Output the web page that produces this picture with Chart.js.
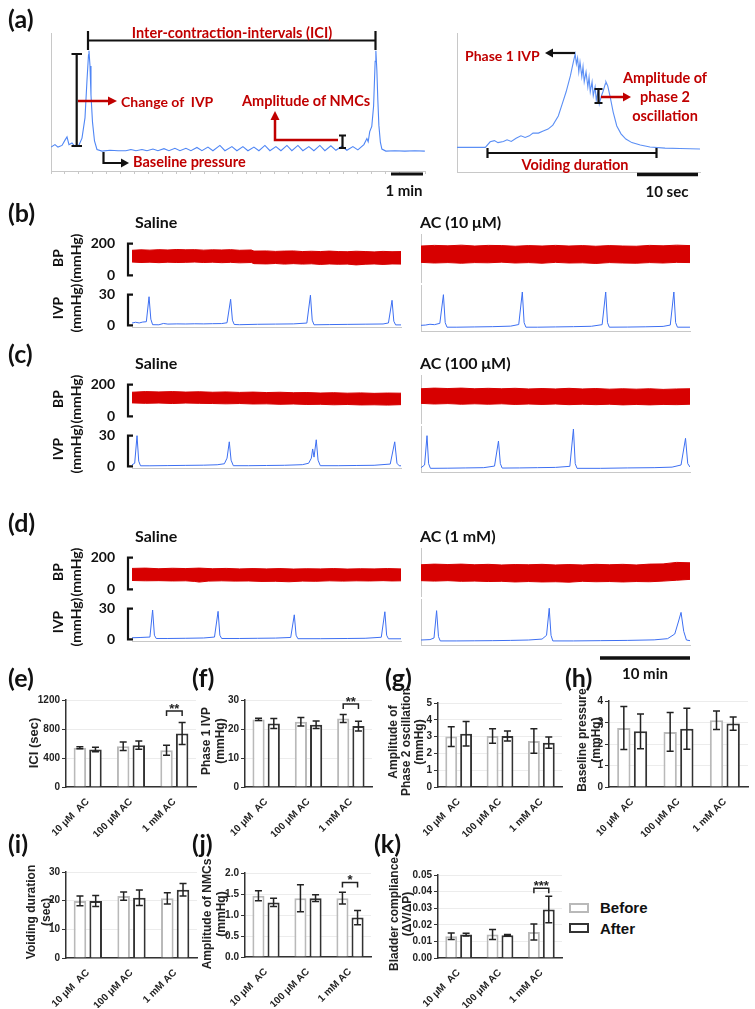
<!DOCTYPE html>
<html lang="en">
<head>
<meta charset="UTF-8" />
<title>AC instillation – cystometry</title>
<script src="https://cdn.jsdelivr.net/npm/chart.js"></script>
<style>
  body { margin: 0; background: #fff; }
  #fig { position: relative; width: 755px; height: 1009px; overflow: hidden; }
  canvas { position: absolute; }
  svg { position: absolute; left: 0; top: 0; z-index: 2; }
  .t { position: absolute; white-space: nowrap; font-family: Lato, 'Open Sans', sans-serif; font-weight: 700; color: #111; z-index: 3; }
  .red { color: #c00000; font-size: 14.5px; transform: translateY(-50%); }
  .ctr { transform: translate(-50%, -50%); }
  .pl { font-size: 25px; transform: translateY(-50%); }
  .cap { font-size: 16px; transform: translateY(-50%); }
  .rot { transform: translate(-50%, -50%) rotate(-90deg); font-size: 14px; line-height: 18px; text-align: center; }
  .yt { position: absolute; white-space: nowrap; transform: translate(-50%, -50%) rotate(-90deg);
        font: bold 12px 'Liberation Sans', Arial, sans-serif; color: #222; text-align: center; z-index: 3; }
  .leg { position: absolute; width: 16px; height: 6px; border: 2.5px solid #b9b9b9; }
  .legt { position: absolute; font: bold 15px 'Liberation Sans', Arial, sans-serif; color: #111; transform: translateY(-50%); }
</style>
</head>
<body>
<div id="fig">
  <!-- panel letters -->
  <div class="t pl" style="left:8px;top:18px">(a)</div>
  <div class="t pl" style="left:8px;top:212px">(b)</div>
  <div class="t pl" style="left:8px;top:353px">(c)</div>
  <div class="t pl" style="left:8px;top:522px">(d)</div>
  <div class="t pl" style="left:8px;top:677px">(e)</div>
  <div class="t pl" style="left:192px;top:677px">(f)</div>
  <div class="t pl" style="left:385px;top:677px">(g)</div>
  <div class="t pl" style="left:565px;top:677px">(h)</div>
  <div class="t pl" style="left:8px;top:843px">(i)</div>
  <div class="t pl" style="left:192px;top:843px">(j)</div>
  <div class="t pl" style="left:374px;top:843px">(k)</div>

  <!-- (a) annotations -->
  <div class="t red ctr" style="left:232px;top:32px">Inter-contraction-intervals (ICI)</div>
  <div class="t red" style="left:121px;top:101px;font-size:14px">Change of &nbsp;IVP</div>
  <div class="t red" style="left:242px;top:100px">Amplitude of NMCs</div>
  <div class="t red" style="left:133px;top:161px">Baseline pressure</div>
  <div class="t ctr" style="left:404px;top:190px;font-size:15px">1 min</div>
  <div class="t red" style="left:465px;top:55px;font-size:14px">Phase 1 IVP</div>
  <div class="t red ctr" style="left:665px;top:96px;text-align:center;line-height:19px">Amplitude of<br>phase 2<br>oscillation</div>
  <div class="t red ctr" style="left:575px;top:164px">Voiding duration</div>
  <div class="t ctr" style="left:667px;top:191px;font-size:15px">10 sec</div>
  <div class="t ctr" style="left:645px;top:673px;font-size:15px">10 min</div>

  <!-- bar chart axis titles -->
  <div class="yt" style="left:33px;top:743px;font-size:13px">ICI (sec)</div>
  <div class="yt" style="left:213px;top:741px;line-height:14px">Phase 1 IVP<br>(mmHg)</div>
  <div class="yt" style="left:406px;top:742px;line-height:13px">Amplitude of<br>Phase 2 oscillation<br>(mmHg)</div>
  <div class="yt" style="left:589px;top:740px;line-height:14px">Baseline pressure<br>(mmHg)</div>
  <div class="yt" style="left:39px;top:912px;line-height:15px">Voiding duration<br>(sec)</div>
  <div class="yt" style="left:214px;top:914px;line-height:14px">Amplitude of NMCs<br>(mmHg)</div>
  <div class="yt" style="left:401px;top:914px;line-height:13px">Bladder compliance<br>(ΔV/ΔP)</div>

  <!-- legend -->
  <div class="leg" style="left:569px;top:903px"></div>
  <div class="legt" style="left:600px;top:907px">Before</div>
  <div class="leg" style="left:569px;top:923px;border-color:#333"></div>
  <div class="legt" style="left:600px;top:928px">After</div>

  <svg width="755" height="1009">
    <g stroke="#111" stroke-width="2.2" fill="none">
      <path d="M88 40.5H375.5M88 31V50M375.5 31V50" />
      <path d="M76.7 54V146M71.5 54H82M71.5 146H82" />
      <path d="M342.5 135.5V148M339 135.5H346M339 148H346" />
      <path d="M103.5 152V163H122" />
      <path d="M391 174H423" stroke-width="3" />
      <path d="M575 53H553" />
      <path d="M598.5 89V103M594.5 89H602.5M594.5 103H602.5" />
      <path d="M487.5 153H656.5M487.5 148V158M656.5 148V158" />
      <path d="M637 174.5H698" stroke-width="3.5" />
      <path d="M600 658H690" stroke-width="3.5" />
    </g>
    <g stroke="#c00000" stroke-width="2.5" fill="none">
      <path d="M78 101H109" />
      <path d="M338 140H275V119" />
      <path d="M601 97H624" />
    </g>
    <g fill="#c00000">
      <polygon points="117,101 108,96.5 108,105.5" />
      <polygon points="275,111 270.5,120 279.5,120" />
      <polygon points="631,97 623,92.5 623,101.5" />
    </g>
    <g fill="#111">
      <polygon points="129,163 121,158.5 121,167.5" />
      <polygon points="545,53 553,48.5 553,57.5" />
    </g>
  </svg>
</div>

<script>
  // ---------- data ----------
  const doses = ['10 μM  AC', '100 μM AC', '1 mM AC'];

  const iciBefore = [540, 563, 508];   const iciBeforeSem = [14, 58, 69];
  const iciAfter = [517, 577, 738];    const iciAfterSem = [30, 58, 152];
  const p1Before = [23.3, 22.5, 23.6]; const p1BeforeSem = [0.4, 1.45, 1.4];
  const p1After = [21.9, 21.5, 21.0];  const p1AfterSem = [1.7, 1.3, 1.7];
  const oscBefore = [3.0, 3.04, 2.74]; const oscBeforeSem = [0.59, 0.43, 0.73];
  const oscAfter = [3.17, 3.04, 2.64]; const oscAfterSem = [0.73, 0.3, 0.33];
  const basBefore = [2.74, 2.56, 3.1]; const basBeforeSem = [1.0, 0.9, 0.43];
  const basAfter = [2.59, 2.71, 2.95]; const basAfterSem = [0.81, 0.95, 0.31];
  const voidBefore = [19.9, 21.6, 20.8]; const voidBeforeSem = [1.7, 1.45, 2.0];
  const voidAfter = [19.9, 21.0, 23.8];  const voidAfterSem = [1.9, 2.7, 2.15];
  const nmcBefore = [1.46, 1.40, 1.40];  const nmcBeforeSem = [0.12, 0.32, 0.14];
  const nmcAfter = [1.30, 1.40, 0.94];   const nmcAfterSem = [0.10, 0.08, 0.17];
  const compBefore = [0.0131, 0.0141, 0.0157]; const compBeforeSem = [0.002, 0.003, 0.0048];
  const compAfter = [0.0141, 0.0137, 0.0292];  const compAfterSem = [0.0008, 0.0005, 0.008];

  const ticksIci = [0, 200, 400, 600, 800, 1000, 1200];
  const ticksP1 = [0, 10, 20, 30];
  const ticksOsc = [0, 1, 2, 3, 4, 5];
  const ticksBas = [0, 1, 2, 3, 4];
  const ticksVoid = [0, 10, 20, 30];
  const ticksNmc = [0, 0.5, 1.0, 1.5, 2.0];
  const ticksComp = [0, 0.01, 0.02, 0.03, 0.04, 0.05];

  // (a) example traces: [time (s), pressure (mmHg)]
  const traceIci = [[0,5.9],[7.7,6.5],[13.5,5.9],[21.3,6.3],[27.1,7.6],[31,8.4],[34.8,6.5],[40.6,6.9],[46.4,6.0],
    [54.2,6.4],[60,8.1],[65.8,13.1],[69.7,22.4],[72.6,28.6],[73.5,29.6],[75.5,25.9],[77.4,18.7],[80.3,12.1],
    [84.2,7.4],[89,5.3],[98.7,4.9],[114.2,5.1],[130,5.0],[145,5.0],[154.8,5.3],[164.5,5.0],[176.1,5.3],[185.8,5.0],
    [197.4,5.4],[207,5.0],[218.7,5.5],[228.3,5.0],[239.9,5.6],[249.6,5.0],[261.2,5.6],[270.9,5.0],[282.5,5.8],
    [292.2,5.0],[303.8,5.9],[313.5,5.0],[327,6.3],[336.7,5.0],[350.2,6.0],[359.9,5.0],[371.5,6.0],[381.2,5.0],
    [392.8,5.9],[402.5,5.0],[414.1,6.3],[423.8,5.0],[435.4,6.0],[445.1,5.0],[456.7,6.3],[466.3,5.0],[478,6.3],
    [487.6,5.0],[499.2,6.0],[508.9,5.0],[520.5,6.3],[530.2,5.0],[541.8,6.2],[551.5,5.1],[563.1,6.1],[572.8,5.1],
    [584.4,6.0],[594,5.2],[605.7,6.5],[611.5,8.0],[614,7.2],[617,9.7],[621,11],[624.5,16],[627.5,27],[628.9,29.6],
    [630.8,24.9],[632.7,17.5],[634.7,11.3],[637.6,7.1],[640.5,5.4],[648.2,4.9],[665.6,5.0],[685,4.9],[704.3,5.0],[723.7,4.9]];

  const traceVoid = [[0,6.2],[2.2,6.2],[4.7,6.2],[5.5,7.6],[6.2,7.9],[6.8,7.4],[7.7,7.7],[8.3,8.1],[9.0,7.7],[9.8,8.5],
    [10.6,9.1],[11.3,8.7],[12.0,9.1],[12.6,9.8],[13.5,9.8],[14.3,10.3],[15.1,10.8],[15.9,11.8],[16.8,14.1],[17.4,16.9],
    [18.1,20.2],[18.8,24.2],[19.3,27.7],[19.6,29.7],[19.8,27.2],[20.0,28.7],[20.2,25.2],[20.4,27.7],[20.7,24.0],
    [20.9,26.5],[21.1,22.7],[21.4,25.2],[21.7,21.4],[21.9,23.9],[22.1,20.2],[22.4,22.7],[22.6,19.2],[22.9,21.4],
    [23.1,18.1],[23.4,20.4],[23.6,17.1],[23.9,18.9],[24.2,20.2],[24.6,22.2],[24.7,22.7],[25.0,21.7],[25.4,18.9],
    [25.9,15.1],[26.5,11.6],[27.2,9.6],[28.0,8.3],[29.0,7.4],[30.4,6.8],[32.0,6.3],[34.5,6.0],[37.0,5.9],[40.3,5.8]];

  // (b)-(d) recordings: [time (min), mmHg]; BP drawn as its systolic / diastolic envelope
  const bpSalB_hi = [[0,158],[1,161],[2,159],[3,162],[4,160],[5,163],[6,161],[7,162],[8,159],[9,161],[10,160],[11,162],[12,158],[13.3,160],[13.6,153],[15,154],[16,151],[17,153],[18,154],[19,150],[20,152],[21,150],[22,153],[23,150],[24,149],[25,152],[26,150],[27,148],[28,151],[29,149],[30,150]];
  const bpSalB_lo = [[0,84],[1,81],[2,83],[3,80],[4,83],[5,81],[6,82],[7,84],[8,81],[9,83],[10,80],[11,82],[12,79],[13.3,81],[13.6,74],[15,72],[16,75],[17,71],[18,74],[19,71],[20,73],[21,69],[22,72],[23,70],[24,71],[25,66],[26,70],[27,72],[28,69],[29,72],[30,71]];
  const bpAcB_hi = [[0,158],[1.5,161],[3,159],[4.5,162],[6,158],[7.5,161],[9,160],[10.5,157],[12,160],[13.5,158],[15,161],[16.5,158],[18,160],[19.5,157],[21,160],[22.5,158],[24,157],[25.5,161],[27,159],[28.5,162],[30,160]];
  const bpAcB_lo = [[0,82],[1.5,79],[3,81],[4.5,78],[6,81],[7.5,80],[9,83],[10.5,79],[12,81],[13.5,78],[15,82],[16.5,79],[18,80],[19.5,77],[21,81],[22.5,79],[24,78],[25.5,81],[27,79],[28.5,82],[30,81]];
  const ivpSalB = [[0,2.2],[0.4,3],[0.8,2.3],[1.2,3.2],[1.6,3.5],[1.9,28],[2.1,6],[2.3,0.6],[3,0.5],[3.5,1.8],[4,1.2],[5,1.4],[6,1.3],[7,1.5],[8,1.4],[9,1.6],[10,1.7],[10.6,2.5],[11,25.5],[11.2,5],[11.4,0.8],[12,0.6],[14,1.0],[16,1.2],[18,1.4],[19.5,2.2],[19.9,29.5],[20.1,5],[20.3,0.5],[22,0.7],[24,0.9],[26,1.1],[28,1.3],[28.6,2.3],[29,24.5],[29.2,4],[29.4,0.4],[30,0.4]];
  const ivpAcB = [[0,2],[0.5,2.2],[1,2.8],[1.5,2.5],[2.1,3.5],[2.5,25],[2.7,4],[2.9,0.6],[4,0.6],[6,0.8],[8,1.0],[10,1.4],[10.9,2.6],[11.3,27],[11.5,4],[11.7,0.6],[13,0.6],[15,0.8],[17,1.0],[19,1.3],[20.2,2.5],[20.6,27],[20.8,4],[21,0.6],[23,0.7],[25,0.9],[27,1.2],[27.8,2.2],[28.2,27],[28.4,4],[28.6,0.6],[30,0.6]];

  const bpSalC_hi = [[0,152],[1.5,156],[3,154],[4.5,156],[6,153],[7.5,155],[9,152],[10.5,154],[12,151],[13.5,153],[15,150],[16.5,152],[18,149],[19.5,150],[21,147],[22.5,149],[24,146],[25.5,148],[27,145],[28.5,147],[30,146]];
  const bpSalC_lo = [[0,85],[1.5,82],[3,84],[4.5,81],[6,84],[7.5,82],[9,81],[10.5,79],[12,81],[13.5,78],[15,79],[16.5,76],[18,78],[19.5,75],[21,76],[22.5,73],[24,75],[25.5,72],[27,73],[28.5,71],[30,74]];
  const bpAcC_hi = [[0,150],[1.5,153],[3,151],[4.5,153],[6,150],[7.5,152],[9,150],[10.5,152],[12,149],[13.5,151],[15,149],[16.5,152],[18,149],[19.5,151],[21,148],[22.5,150],[24,148],[25.5,150],[27,147],[28.5,149],[30,150]];
  const bpAcC_lo = [[0,82],[1.5,79],[3,81],[4.5,78],[6,80],[7.5,78],[9,80],[10.5,77],[12,79],[13.5,77],[15,79],[16.5,76],[18,78],[19.5,76],[21,78],[22.5,75],[24,77],[25.5,75],[27,77],[28.5,76],[30,78]];
  const ivpSalC = [[0,1.5],[0.3,3],[0.56,30],[0.75,5],[0.95,0.5],[2,0.5],[4,0.7],[6,0.9],[8,1.1],[9.5,1.5],[10.3,2.5],[10.6,8],[10.85,24],[11.05,6],[11.3,0.6],[13,0.6],[15,0.8],[17,1.0],[19,1.6],[19.7,3],[20.0,8],[20.15,17],[20.3,9],[20.55,26],[20.75,6],[21,0.6],[23,0.6],[25,0.8],[27,1.0],[28.8,2.2],[29.3,24],[29.55,3],[29.8,0.5],[30,0.5]];
  const ivpAcC = [[0,1],[0.4,3],[0.67,25],[0.85,4],[1.05,0.5],[3,0.6],[5,0.8],[7,1.0],[8.2,2.2],[8.64,21],[8.85,4],[9.05,0.7],[11,0.8],[13,1.0],[15,1.2],[16.6,2],[17.0,30],[17.2,4],[17.4,0.5],[20,0.5],[23,0.8],[26,1.0],[28,1.4],[29,3],[29.5,23],[29.75,4],[30,1.5]];

  const bpSalD_hi = [[0,132],[1.5,134],[3,130],[4.5,133],[6,131],[7.5,134],[9,130],[10.5,132],[12,129],[13.5,131],[15,129],[16.5,131],[18,128],[19.5,130],[21,129],[22.5,131],[24,128],[25.5,130],[27,129],[28.5,131],[30,129]];
  const bpSalD_lo = [[0,56],[1.5,54],[3,55],[4.5,53],[6,54],[7,50],[7.5,46],[8.5,52],[10,54],[11.5,52],[13,53],[14.5,50],[16,51],[17.5,48],[19,52],[20.5,51],[22,54],[23.5,52],[25,54],[26.5,53],[28,55],[29,53],[30,54]];
  const bpAcD_hi = [[0,136],[1.5,139],[3,137],[4.5,139],[6,136],[7.5,138],[9,135],[10.5,137],[12,136],[13.5,138],[15,135],[16.5,137],[18,135],[19.5,138],[21,136],[22.5,138],[24,135],[25.5,139],[27,140],[28.5,147],[30,145]];
  const bpAcD_lo = [[0,62],[1.5,60],[3,62],[4.5,59],[6,60],[7.5,58],[9,59],[10.5,56],[12,58],[13.5,56],[15,57],[16.5,55],[18,59],[19.5,57],[21,58],[22.5,56],[24,58],[25.5,57],[27,60],[28.5,64],[30,68]];
  const ivpSalD = [[0,1.5],[1,1.8],[2,2.2],[2.3,28.7],[2.5,4],[2.7,0.8],[4,0.8],[6,1.0],[8,1.3],[9.2,2.2],[9.6,27.4],[9.8,4],[10,0.8],[12,0.8],[14,1.0],[16,1.2],[17.7,1.8],[18.1,24],[18.3,4],[18.5,0.6],[21,0.6],[24,0.8],[26,1.0],[27.8,2.0],[28.2,27],[28.4,4],[28.6,0.5],[30,0.5]];
  const ivpAcD = [[0,1.5],[1,1.8],[1.45,3],[1.74,23.5],[1.95,4],[2.15,0.8],[4,0.8],[6,0.9],[8,1.0],[10,1.2],[12,1.5],[13.5,2.2],[14.0,5],[14.3,25.3],[14.5,5],[14.7,0.8],[17,0.8],[20,1.0],[23,1.2],[26,1.6],[27.5,2.5],[28.3,6],[28.7,15],[29.0,22.2],[29.3,8],[29.6,1.5],[30,1]];

  const conditions = ['AC (10 μM)', 'AC (100 μM)', 'AC (1 mM)'];

  // ---------- helpers ----------
  Chart.defaults.font.family = "'Liberation Sans', Arial, sans-serif";
  const fig = document.getElementById('fig');

  // area = [x0, y0, x1, y1] of the plot area, m = [left, top, right, bottom] margin around it
  function addCanvas(area, m) {
    const c = document.createElement('canvas');
    const w = area[2] - area[0] + m[0] + m[2];
    const h = area[3] - area[1] + m[1] + m[3];
    c.width = w; c.height = h;
    c.style.left = (area[0] - m[0]) + 'px';
    c.style.top = (area[1] - m[1]) + 'px';
    c.style.width = w + 'px'; c.style.height = h + 'px';
    fig.appendChild(c);
    return c;
  }

  function addText(cls, html, left, top) {
    const d = document.createElement('div');
    d.className = cls;
    d.innerHTML = html;
    d.style.left = left + 'px'; d.style.top = top + 'px';
    fig.appendChild(d);
  }

  const pts = a => a.map(p => ({ x: p[0], y: p[1] }));

  // black "[" axis used on the left recordings
  const bracketAxis = {
    id: 'bracket',
    afterDraw(chart, args, o) {
      if (!o || !o.top) return;
      const { ctx, chartArea, scales: { y } } = chart;
      const x = chartArea.left - 4;
      const y0 = y.getPixelForValue(0), y1 = y.getPixelForValue(o.top);
      ctx.save();
      ctx.strokeStyle = '#111'; ctx.lineWidth = 2.2;
      ctx.beginPath();
      ctx.moveTo(x + 5, y1); ctx.lineTo(x, y1); ctx.lineTo(x, y0); ctx.lineTo(x + 5, y0);
      ctx.stroke();
      ctx.restore();
    }
  };

  // m[3] is the space below the plot area; pad of it is plain layout padding, the rest is the x scale
  function traceChart(area, m, sets, xr, yr, o) {
    const pad = o.pad || 0;
    const c = addCanvas(area, m);
    new Chart(c, {
      type: 'line',
      data: { datasets: sets },
      options: {
        responsive: false, animation: false, devicePixelRatio: 1,
        layout: { padding: { left: 0, top: m[1], right: m[2], bottom: pad } },
        elements: { point: { radius: 0 }, line: { tension: 0 } },
        plugins: { legend: { display: false }, tooltip: { enabled: false }, bracket: { top: o.top || 0 } },
        scales: {
          x: {
            type: 'linear', min: xr[0], max: xr[1],
            afterFit: s => { s.height = m[3] - pad; },
            ticks: { display: false, stepSize: o.xStep || 5 },
            grid: { display: !!o.xTicks, drawOnChartArea: false, tickLength: 3, color: '#c8c8c8' },
            border: { display: !!o.xLine, color: '#c8c8c8', width: 1 }
          },
          y: {
            min: yr[0], max: yr[1],
            afterFit: s => { s.width = m[0]; },
            afterBuildTicks: o.yTicks ? s => { s.ticks = o.yTicks.map(v => ({ value: v })); } : undefined,
            ticks: { display: !!o.yTicks, padding: 9, color: '#111', font: { family: 'Lato', weight: 'bold', size: 14 } },
            grid: { display: false },
            border: { display: !!o.yLine, color: '#c8c8c8', width: 1 }
          }
        }
      },
      plugins: [bracketAxis]
    });
  }

  function bpSets(hi, lo) {
    return [
      { data: pts(hi), borderColor: '#d70000', backgroundColor: '#d70000', borderWidth: 1, fill: '+1' },
      { data: pts(lo), borderColor: '#d70000', borderWidth: 1, fill: false }
    ];
  }
  const lineSet = (d, col, w) => [{ data: pts(d), borderColor: col, borderWidth: w, fill: false }];

  // value range so that vTop sits at pixel pTop and 0 at p0 inside an area [aTop, aBot]
  function yRange(pTop, p0, vTop, aTop, aBot) {
    const k = (p0 - pTop) / vTop;
    return [-(aBot - p0) / k, (p0 - aTop) / k];
  }

  // ---------- (a) ----------
  traceChart([51, 33, 425, 171], [1, 0, 1, 4], lineSet(traceIci, '#4f86f5', 1.1), [0, 724], [0, 34],
    { yLine: true, xLine: true, xTicks: true, xStep: 27 });
  traceChart([457, 33, 700, 172], [1, 0, 1, 4], lineSet(traceVoid, '#5b8ff5', 1.1), [0, 40.3], [0, 35],
    { yLine: true, xLine: true });

  // ---------- (b)-(d) ----------
  const rows = [
    { dy: 0,   sal: [bpSalB_hi, bpSalB_lo, ivpSalB], ac: [bpAcB_hi, bpAcB_lo, ivpAcB] },
    { dy: 141, sal: [bpSalC_hi, bpSalC_lo, ivpSalC], ac: [bpAcC_hi, bpAcC_lo, ivpAcC] },
    { dy: 314, sal: [bpSalD_hi, bpSalD_lo, ivpSalD], ac: [bpAcD_hi, bpAcD_lo, ivpAcD] }
  ];
  rows.forEach((r, i) => {
    const d = r.dy;
    const bpR = yRange(237 + d, 280 + d, 200, 234 + d, 283 + d);
    const ivR = yRange(288 + d, 328 + d, 30, 285 + d, 331 + d);
    traceChart([132, 234 + d, 401, 283 + d], [42, 10, 1, 12], bpSets(r.sal[0], r.sal[1]), [0, 30], bpR,
      { top: 200, yTicks: [0, 200], pad: 10 });
    traceChart([421, 234 + d, 690, 283 + d], [1, 0, 1, 0], bpSets(r.ac[0], r.ac[1]), [0, 30], bpR,
      { yLine: true });
    traceChart([132, 285 + d, 401, 331 + d], [42, 10, 1, 14], lineSet(r.sal[2], '#3d6ff2', 1), [0, 30], ivR,
      { top: 30, yTicks: [0, 30], xLine: true, pad: 10 });
    traceChart([421, 285 + d, 690, 331 + d], [1, 0, 1, 4], lineSet(r.ac[2], '#3d6ff2', 1), [0, 30], ivR,
      { yLine: true, xLine: true });

    addText('t cap', 'Saline', 135, 221 + d);
    addText('t cap', conditions[i], 420, 221 + d);
    addText('t rot', 'BP<br>(mmHg)', 67, 258 + d);
    addText('t rot', 'IVP<br>(mmHg)', 67, 308 + d);
  });

  // ---------- (e)-(k) bar charts ----------
  const errorBars = {
    id: 'errorBars',
    afterDatasetsDraw(chart) {
      const { ctx, scales: { y } } = chart;
      chart.data.datasets.forEach((ds, i) => {
        chart.getDatasetMeta(i).data.forEach((bar, j) => {
          const top = y.getPixelForValue(ds.data[j] + ds.err[j]);
          const bot = y.getPixelForValue(ds.data[j] - ds.err[j]);
          ctx.save();
          ctx.strokeStyle = '#222'; ctx.lineWidth = 1.5;
          ctx.beginPath();
          ctx.moveTo(bar.x, top); ctx.lineTo(bar.x, bot);
          ctx.moveTo(bar.x - 3.5, top); ctx.lineTo(bar.x + 3.5, top);
          ctx.moveTo(bar.x - 3.5, bot); ctx.lineTo(bar.x + 3.5, bot);
          ctx.stroke();
          ctx.restore();
        });
      });
    }
  };

  const sigBracket = {
    id: 'sig',
    afterDraw(chart, args, o) {
      if (!o || !o.text) return;
      const { ctx, scales: { y } } = chart;
      const a = chart.getDatasetMeta(0).data[o.group], b = chart.getDatasetMeta(1).data[o.group];
      const py = y.getPixelForValue(o.value);
      ctx.save();
      ctx.strokeStyle = '#222'; ctx.lineWidth = 1.5;
      ctx.beginPath();
      ctx.moveTo(a.x, py + 5); ctx.lineTo(a.x, py); ctx.lineTo(b.x, py); ctx.lineTo(b.x, py + 5);
      ctx.stroke();
      ctx.fillStyle = '#222';
      ctx.font = "bold 13px 'Liberation Sans', Arial";
      ctx.textAlign = 'center';
      ctx.fillText(o.text, (a.x + b.x) / 2, py + 2);
      ctx.restore();
    }
  };

  function barChart(area, before, beforeSem, after, afterSem, yTicks, fmt, sig) {
    const m = [44, 16, 6, 50];
    const c = addCanvas(area, m);
    new Chart(c, {
      type: 'bar',
      data: {
        labels: doses,
        datasets: [
          { label: 'Before', data: before, err: beforeSem, backgroundColor: '#fff', borderColor: '#b9b9b9', borderWidth: 2 },
          { label: 'After', data: after, err: afterSem, backgroundColor: '#fff', borderColor: '#333', borderWidth: 2 }
        ]
      },
      options: {
        responsive: false, animation: false, devicePixelRatio: 1,
        layout: { padding: { left: 0, top: m[1], right: m[2], bottom: 0 } },
        datasets: { bar: { barPercentage: 0.8, categoryPercentage: 0.72 } },
        plugins: { legend: { display: false }, tooltip: { enabled: false }, sig: sig || {} },
        scales: {
          x: {
            afterFit: s => { s.height = m[3]; },
            grid: { display: false },
            border: { color: '#333', width: 1.5 },
            ticks: { maxRotation: 45, minRotation: 45, padding: 1, color: '#222', font: { weight: 'bold', size: 10 } }
          },
          y: {
            min: yTicks[0], max: yTicks[yTicks.length - 1],
            afterFit: s => { s.width = m[0]; },
            afterBuildTicks: s => { s.ticks = yTicks.map(v => ({ value: v })); },
            ticks: { padding: 2, color: '#222', font: { weight: 'bold', size: 10 }, callback: v => fmt(v) },
            grid: { color: '#ececec', tickColor: '#333', tickLength: 4 },
            border: { color: '#333', width: 1.5 }
          }
        }
      },
      plugins: [errorBars, sigBracket]
    });
  }

  const asInt = v => String(v);
  barChart([66, 700, 196, 787], iciBefore, iciBeforeSem, iciAfter, iciAfterSem, ticksIci, asInt,
    { group: 2, value: 1048, text: '**' });
  barChart([245, 700, 372, 787], p1Before, p1BeforeSem, p1After, p1AfterSem, ticksP1, asInt,
    { group: 2, value: 28.6, text: '**' });
  barChart([438, 703, 562, 787], oscBefore, oscBeforeSem, oscAfter, oscAfterSem, ticksOsc, asInt);
  barChart([609, 701, 748, 787], basBefore, basBeforeSem, basAfter, basAfterSem, ticksBas, asInt);
  barChart([66, 872, 197, 958], voidBefore, voidBeforeSem, voidAfter, voidAfterSem, ticksVoid, asInt);
  barChart([245, 873, 371, 957], nmcBefore, nmcBeforeSem, nmcAfter, nmcAfterSem, ticksNmc, v => v.toFixed(1),
    { group: 2, value: 1.775, text: '*' });
  barChart([438, 875, 562, 958], compBefore, compBeforeSem, compAfter, compAfterSem, ticksComp, v => v.toFixed(2),
    { group: 2, value: 0.042, text: '***' });
</script>
</body>
</html>
